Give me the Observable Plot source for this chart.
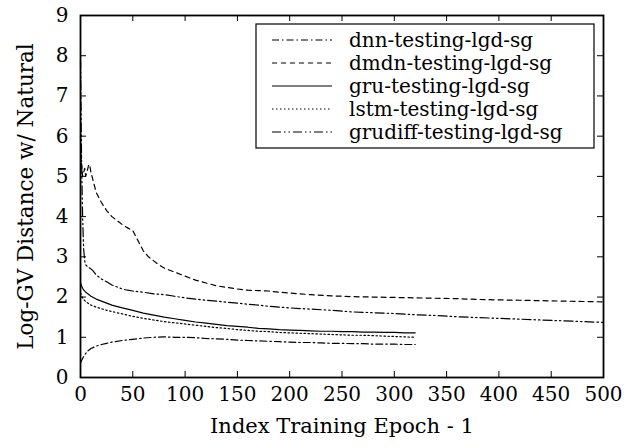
<!DOCTYPE html>
<html>
<head>
<meta charset="utf-8">
<script src="https://cdn.jsdelivr.net/npm/d3@7"></script>
<script src="https://cdn.jsdelivr.net/npm/@observablehq/plot@0.6"></script>
<style>
  html, body { margin: 0; padding: 0; background: #fff; }
</style>
</head>
<body>
<div id="chart"></div>
<script>
const xTicks = [0, 50, 100, 150, 200, 250, 300, 350, 400, 450, 500];
const yTicks = [0, 1, 2, 3, 4, 5, 6, 7, 8, 9];
const xLabel = "Index Training Epoch - 1";
const yLabel = "Log-GV Distance w/ Natural";

const seriesNames = ["dnn-testing-lgd-sg", "dmdn-testing-lgd-sg", "gru-testing-lgd-sg", "lstm-testing-lgd-sg", "grudiff-testing-lgd-sg"];

const shortX = [0,1,2,3,5,7,10,15,20,25,30,40,50,60,70,80,90,100,110,120,130,140,150,160,170,180,190,200,210,220,230,240,250,260,270,280,290,300,310,320];
const dnnY  = [0.36,0.42,0.47,0.52,0.60,0.66,0.72,0.78,0.82,0.85,0.88,0.92,0.95,0.98,1.00,1.01,1.00,1.00,0.99,0.97,0.96,0.95,0.93,0.92,0.91,0.90,0.89,0.88,0.87,0.87,0.86,0.85,0.85,0.84,0.84,0.83,0.83,0.83,0.82,0.82];
const gruY  = [2.35,2.28,2.22,2.18,2.12,2.08,2.02,1.95,1.90,1.85,1.80,1.73,1.67,1.60,1.55,1.50,1.46,1.42,1.38,1.35,1.32,1.29,1.27,1.25,1.22,1.21,1.19,1.18,1.17,1.16,1.15,1.15,1.14,1.14,1.13,1.13,1.12,1.12,1.11,1.11];
const lstmY = [2.10,2.03,1.98,1.94,1.89,1.85,1.80,1.75,1.71,1.67,1.64,1.58,1.52,1.47,1.43,1.39,1.36,1.33,1.30,1.27,1.24,1.22,1.19,1.17,1.15,1.14,1.12,1.11,1.10,1.09,1.08,1.07,1.06,1.05,1.05,1.04,1.03,1.02,1.01,1.00];

const dmdnX = [0,1,2,3,4,5,6,7,8,9,10,12,15,18,20,25,30,35,40,45,50,55,60,65,70,75,80,90,100,110,120,130,140,150,160,170,180,190,200,220,240,260,280,300,320,340,360,380,400,420,440,460,480,500];
const dmdnY = [6.0,5.3,5.0,5.1,5.2,5.0,5.1,5.2,5.3,5.25,5.1,4.9,4.6,4.45,4.35,4.15,4.0,3.9,3.8,3.72,3.65,3.4,3.15,3.0,2.9,2.8,2.72,2.62,2.52,2.42,2.35,2.28,2.24,2.2,2.17,2.16,2.15,2.12,2.1,2.06,2.03,2.01,2.0,1.99,1.98,1.97,1.96,1.94,1.93,1.92,1.91,1.9,1.89,1.88];

const grudiffX = [0,1,2,3,4,5,7,10,12,15,20,25,30,35,40,45,50,60,70,80,90,100,110,120,130,140,150,160,170,180,190,200,220,240,260,280,300,320,340,360,380,400,420,440,460,480,500];
const grudiffY = [7.9,5.5,4.0,3.2,2.9,2.8,2.75,2.7,2.65,2.55,2.45,2.38,2.3,2.25,2.2,2.17,2.15,2.12,2.08,2.06,2.02,1.98,1.95,1.92,1.9,1.87,1.85,1.82,1.8,1.77,1.75,1.73,1.7,1.67,1.63,1.61,1.59,1.56,1.54,1.51,1.49,1.47,1.45,1.43,1.41,1.39,1.37];

const dashes = ["7,3,1.5,3", "5,4", null, "1.5,2.5", "9,3,1.5,3,1.5,3"];

const toRows = (xs, ys) => xs.map((x, i) => ({x, y: ys[i]}));
const series = [
  toRows(shortX, dnnY),
  toRows(dmdnX, dmdnY),
  toRows(shortX, gruY),
  toRows(shortX, lstmY),
  toRows(grudiffX, grudiffY)
];

const W = 637, H = 448;
const mL = 80, mR = 34, mT = 15, mB = 71;
const fw = W - mL - mR, fh = H - mT - mB;
const tl = 6;
const font = "DejaVu Serif";

const lineMarks = series.map((rows, i) => Plot.line(rows, {
  x: "x", y: "y", stroke: "#000", strokeWidth: 1.2,
  strokeDasharray: dashes[i] || undefined, curve: "linear"
}));

const svg = Plot.plot({
  width: W, height: H,
  marginLeft: mL, marginRight: mR, marginTop: mT, marginBottom: mB,
  style: {fontFamily: font, fontSize: "20px", color: "#000", background: "#fff"},
  x: {domain: [0, 500]},
  y: {domain: [0, 9]},
  marks: [
    ...lineMarks,
    Plot.tickX(xTicks, {x: d => d, insetTop: fh - tl, stroke: "#000"}),
    Plot.tickX(xTicks, {x: d => d, insetBottom: fh - tl, stroke: "#000"}),
    Plot.tickY(yTicks, {y: d => d, insetRight: fw - tl, stroke: "#000"}),
    Plot.tickY(yTicks, {y: d => d, insetLeft: fw - tl, stroke: "#000"}),
    Plot.axisX({ticks: xTicks, tickSize: 0, tickPadding: 9, label: null, fontSize: 20, tickFormat: d => String(d)}),
    Plot.axisY({ticks: yTicks, tickSize: 0, tickPadding: 12, label: null, fontSize: 20, tickFormat: d => String(d)}),
    Plot.frame({stroke: "#000", strokeWidth: 1.8}),
    Plot.text([xLabel], {frameAnchor: "bottom", textAnchor: "middle", dy: 55, fontSize: 21, fill: "#000"}),
    Plot.text([yLabel], {frameAnchor: "left", textAnchor: "middle", rotate: -90, dx: -54, fontSize: 21.5, fill: "#000"})
  ]
});

// legend inside the plot area (top right)
const lg = d3.select(svg).append("g").attr("font-family", font).attr("font-size", 20).attr("text-anchor", "start");
const box = {x: 256, y: 24, w: 338, h: 124};
lg.append("rect").attr("x", box.x).attr("y", box.y).attr("width", box.w).attr("height", box.h)
  .attr("fill", "#fff").attr("stroke", "#000").attr("stroke-width", 1.2);
const rowY0 = 40, rowStep = 23;
seriesNames.forEach((name, i) => {
  const cy = rowY0 + i * rowStep;
  const ln = lg.append("line").attr("x1", 272).attr("x2", 332).attr("y1", cy).attr("y2", cy)
    .attr("stroke", "#000").attr("stroke-width", 1.2);
  if (dashes[i]) ln.attr("stroke-dasharray", dashes[i]);
  lg.append("text").attr("x", 349).attr("y", cy).attr("dy", "0.35em").attr("text-anchor", "start").attr("fill", "#000").text(name);
});

document.getElementById("chart").appendChild(svg);
</script>
</body>
</html>
